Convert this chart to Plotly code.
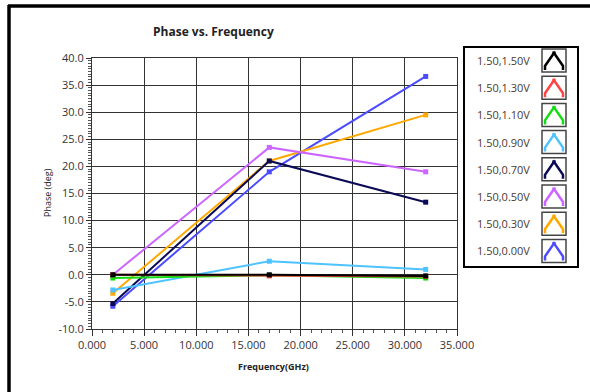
import plotly.graph_objects as go

freq = [2.0, 17.0, 32.0]
series_names = ["1.50,1.50V", "1.50,1.30V", "1.50,1.10V", "1.50,0.90V",
                "1.50,0.70V", "1.50,0.50V", "1.50,0.30V", "1.50,0.00V"]
series_colors = ["#000000", "#FF4444", "#11DD11", "#4DC3FF",
                 "#0A0A55", "#CC66FF", "#FFA800", "#4B4BFF"]
phase_150 = [0.0, 0.0, -0.2]
phase_130 = [0.0, -0.2, -0.3]
phase_110 = [-0.6, -0.1, -0.6]
phase_090 = [-2.8, 2.5, 1.0]
phase_070 = [-5.3, 21.0, 13.4]
phase_050 = [0.0, 23.5, 19.0]
phase_030 = [-3.4, 21.0, 29.5]
phase_000 = [-5.8, 19.0, 36.6]
all_values = [phase_150, phase_130, phase_110, phase_090,
              phase_070, phase_050, phase_030, phase_000]
y_ticks = [40.0, 35.0, 30.0, 25.0, 20.0, 15.0, 10.0, 5.0, 0.0, -5.0, -10.0]
x_ticks = [0, 5, 10, 15, 20, 25, 30, 35]

W, H = 590, 392
L, R, T, B = 92, 457, 58, 329

fig = go.Figure()
for name, col, vals in reversed(list(zip(series_names, series_colors, all_values))):
    fig.add_trace(go.Scatter(x=freq, y=vals, name=name, mode="lines+markers",
                             line=dict(color=col, width=2),
                             marker=dict(symbol="square", size=5, color=col),
                             showlegend=False))

def px(x):
    return (x - L) / (R - L)

def py(y):
    return (B - y) / (B - T)

shapes = []
annotations = []
# outer frame
shapes.append(dict(type="line", xref="paper", yref="paper", x0=px(8), x1=px(600),
                   y0=py(6), y1=py(6), line=dict(color="black", width=3.5)))
shapes.append(dict(type="line", xref="paper", yref="paper", x0=px(9), x1=px(9),
                   y0=py(5), y1=py(400), line=dict(color="black", width=3.5)))
# legend box
shapes.append(dict(type="rect", xref="paper", yref="paper", x0=px(464), x1=px(578),
                   y0=py(47), y1=py(267), line=dict(color="black", width=2)))
step = 27.2
for i, (name, col) in enumerate(zip(series_names, series_colors)):
    top = 49 + i * step
    bot = top + 23
    cy = (top + bot) / 2
    shapes.append(dict(type="rect", xref="paper", yref="paper", x0=px(542), x1=px(566),
                       y0=py(top), y1=py(bot), line=dict(color="#444", width=1.5)))
    pts = [(545, bot - 2), (545, bot - 6), (554, top + 4), (563, bot - 6), (563, bot - 2)]
    path = "M " + " L ".join(f"{px(a):.5f},{py(b):.5f}" for a, b in pts)
    shapes.append(dict(type="path", xref="paper", yref="paper", path=path,
                       line=dict(color=col, width=2.5)))
    shapes.append(dict(type="rect", xref="paper", yref="paper", x0=px(552.3), x1=px(555.7),
                       y0=py(top + 2.5), y1=py(top + 5.5), fillcolor=col, line=dict(width=0)))
    annotations.append(dict(text=name, xref="paper", yref="paper", x=px(532), y=py(cy),
                            xanchor="right", yanchor="middle", showarrow=False,
                            font=dict(family="Open Sans", size=11, color="#4a3a30")))

annotations.append(dict(text="<b>Phase vs. Frequency</b>", xref="paper", yref="paper",
                        x=px(213), y=py(31), xanchor="center", yanchor="middle",
                        showarrow=False, font=dict(family="Open Sans", size=12, color="#222")))
annotations.append(dict(text="Phase (deg)", xref="paper", yref="paper", textangle=-90,
                        x=px(47), y=py(193), xanchor="center", yanchor="middle",
                        showarrow=False, font=dict(family="Open Sans", size=9, color="#222")))
annotations.append(dict(text="<b>Frequency(GHz)</b>", xref="paper", yref="paper",
                        x=px(273), y=py(367), xanchor="center", yanchor="middle",
                        showarrow=False, font=dict(family="Open Sans", size=9, color="#222")))

fig.update_layout(
    width=W, height=H,
    margin=dict(l=L, r=W - R, t=T, b=H - B, pad=0),
    paper_bgcolor="white", plot_bgcolor="white",
    shapes=shapes, annotations=annotations,
    showlegend=False,
)
fig.update_xaxes(range=[0, 35], tickvals=x_ticks,
                 ticktext=[f"{v:.3f}" for v in x_ticks],
                 showgrid=True, gridcolor="#333", gridwidth=1,
                 showline=True, linecolor="#333", linewidth=1, mirror=True,
                 ticks="outside", ticklen=6, tickcolor="#333",
                 minor=dict(dtick=1, ticks="outside", ticklen=3, tickcolor="#555", showgrid=False),
                 tickfont=dict(family="Open Sans", size=11, color="#333"),
                 zeroline=False)
fig.update_yaxes(range=[-10, 40], tickvals=y_ticks,
                 ticktext=[f"{v:.1f}" for v in y_ticks],
                 showgrid=True, gridcolor="#333", gridwidth=1,
                 showline=True, linecolor="#333", linewidth=1, mirror=True,
                 ticks="outside", ticklen=5, tickcolor="#333",
                 minor=dict(dtick=0.5, ticks="outside", ticklen=3, tickcolor="#555", showgrid=False),
                 tickfont=dict(family="Open Sans", size=11, color="#333"),
                 zeroline=False)

fig.write_html("out.html", config={"displayModeBar": False},
               post_script="document.body.style.margin='0';document.body.style.overflow='hidden';")
